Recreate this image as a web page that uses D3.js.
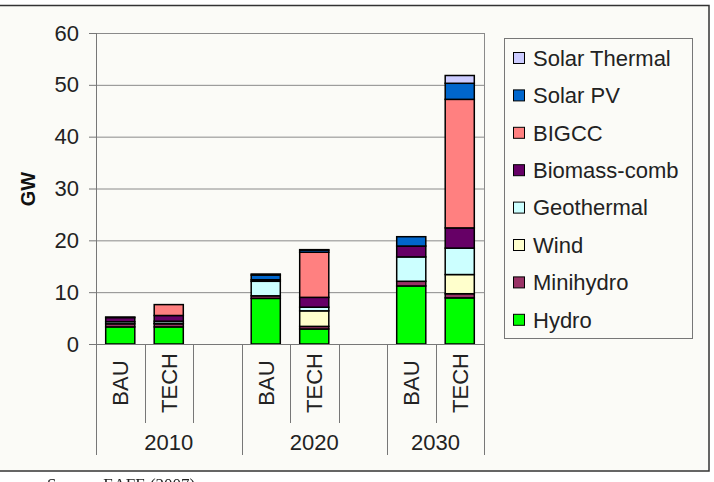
<!DOCTYPE html>
<html lang="en">
  <meta charset="utf-8">
  <title>Renewable capacity by scenario</title>
  <style>
  body {
    margin: 0px;
    background: white;
  }
  #chartDiv {
    position: fixed;
    left: 0px;
    top: 0px;
    width: 714px;
    height: 482px;
  }
  text {
    font-family: "Liberation Sans", Arial, sans-serif;
  }
  </style>
  <body>
  <div id="chartDiv"></div>

  <script src="https://cdn.jsdelivr.net/npm/d3@7"></script>
  <script>
    // Values, one entry per bar:
    // 2010 BAU, 2010 TECH, 2020 BAU, 2020 TECH, 2030 BAU, 2030 TECH
    var years = ["2010", "2020", "2030"];
    var scenarios = ["BAU", "TECH"];
    var seriesNames = ["Hydro", "Minihydro", "Wind", "Geothermal", "Biomass-comb", "BIGCC", "Solar PV", "Solar Thermal"];
    var hydro        = [3.3, 3.3, 8.8, 2.9, 11.2, 8.9];
    var minihydro    = [0.6, 0.6, 0.5, 0.5, 0.9, 0.8];
    var wind         = [0.0, 0.1, 0.0, 3.0, 0.0, 3.7];
    var geothermal   = [0.4, 0.4, 2.8, 0.7, 4.7, 5.1];
    var biomassComb  = [0.8, 1.1, 0.3, 1.9, 2.1, 3.9];
    var bigcc        = [0.0, 2.1, 0.0, 8.7, 0.0, 24.8];
    var solarPV      = [0.1, 0.0, 0.9, 0.4, 1.8, 3.1];
    var solarThermal = [0.0, 0.0, 0.2, 0.1, 0.0, 1.5];
    var yTicks = [0, 10, 20, 30, 40, 50, 60];

    var seriesValues = [hydro, minihydro, wind, geothermal, biomassComb, bigcc, solarPV, solarThermal];
    var seriesColors = ["#00ff00", "#993366", "#ffffcc", "#ccffff", "#660066", "#ff8080", "#0066cc", "#ccccff"];

    var W = 714, H = 482;
    var svg = d3.select("#chartDiv").append("svg").attr("width", W).attr("height", H);

    // outer frame
    svg.append("rect").attr("x", -1).attr("y", 5.5).attr("width", 710).attr("height", 465.5)
      .attr("fill", "#fbfbf7").attr("stroke", "#333").attr("stroke-width", 1.5);

    // Build slot list: BAU, TECH and a blank slot between year groups.
    var slots = [];
    years.forEach(function(yr, gi) {
      scenarios.forEach(function(sc) { slots.push(yr + "|" + sc); });
      if (gi < years.length - 1) slots.push(yr + "|gap");
    });

    var plotL = 96, plotR = 484, plotT = 33, plotB = 344;
    var x = d3.scaleBand().domain(slots).range([plotL, plotR]).paddingInner(0.4).paddingOuter(0.2);
    var y = d3.scaleLinear().domain([0, 60]).range([plotB, plotT]);
    var step = x.step();

    // gridlines
    svg.append("g").selectAll("line").data(yTicks.filter(function(t) { return t > 0; }))
      .join("line")
      .attr("x1", plotL).attr("x2", plotR)
      .attr("y1", function(d) { return y(d) + 0.5; }).attr("y2", function(d) { return y(d) + 0.5; })
      .attr("stroke", "#8a8a8a").attr("stroke-width", 1);
    svg.append("line").attr("x1", plotR + 0.5).attr("x2", plotR + 0.5).attr("y1", plotT).attr("y2", plotB)
      .attr("stroke", "#8a8a8a");

    // stacked bars
    var bars = [];
    years.forEach(function(yr, gi) {
      scenarios.forEach(function(sc, si) {
        var idx = gi * 2 + si;
        var base = 0;
        seriesValues.forEach(function(vals, k) {
          var v = vals[idx];
          if (v > 0) bars.push({ slot: yr + "|" + sc, y0: base, y1: base + v, color: seriesColors[k] });
          base += v;
        });
      });
    });
    svg.append("g").selectAll("rect").data(bars).join("rect")
      .attr("x", function(d) { return x(d.slot); })
      .attr("width", x.bandwidth())
      .attr("y", function(d) { return y(d.y1); })
      .attr("height", function(d) { return y(d.y0) - y(d.y1); })
      .attr("fill", function(d) { return d.color; })
      .attr("stroke", "#000").attr("stroke-width", 1.5);

    // y axis
    var yAxis = svg.append("g").attr("transform", "translate(" + plotL + ",0)")
      .call(d3.axisLeft(y).tickValues(yTicks).tickSize(7).tickPadding(10));
    yAxis.select(".domain").remove();
    yAxis.selectAll("line").attr("stroke", "#777");
    yAxis.selectAll("text").attr("font-size", 22).attr("fill", "#222")
      .style("font-family", "'Liberation Sans', Arial, sans-serif");
    svg.append("line").attr("x1", plotL + 0.5).attr("x2", plotL + 0.5).attr("y1", plotT).attr("y2", 455)
      .attr("stroke", "#777");

    // category axis line
    svg.append("line").attr("x1", plotL).attr("x2", plotR).attr("y1", plotB + 0.5).attr("y2", plotB + 0.5)
      .attr("stroke", "#777");

    // slot separators: short inside a year group, long at group edges
    var seps = [];
    slots.forEach(function(s, i) {
      var right = x(s) + x.bandwidth() + step * 0.2;
      var groupEnd = (i === slots.length - 1) || s.split("|")[1] === "gap";
      seps.push({ x: right, long: groupEnd });
    });
    svg.append("g").selectAll("line").data(seps).join("line")
      .attr("x1", function(d) { return Math.round(d.x) + 0.5; })
      .attr("x2", function(d) { return Math.round(d.x) + 0.5; })
      .attr("y1", plotB).attr("y2", function(d) { return d.long ? 455 : 423; })
      .attr("stroke", "#777");

    // scenario labels
    var labelSlots = slots.filter(function(s) { return s.split("|")[1] !== "gap"; });
    svg.append("g").selectAll("text").data(labelSlots).join("text")
      .attr("transform", function(d) {
        return "translate(" + (x(d) + x.bandwidth() / 2 + 8) + ",383) rotate(-90)";
      })
      .attr("text-anchor", "middle").attr("font-size", 22).attr("fill", "#222")
      .text(function(d) { return d.split("|")[1]; });

    // year labels
    svg.append("g").selectAll("text").data(years).join("text")
      .attr("x", function(yr) {
        var a = x(yr + "|BAU") - step * 0.2;
        var b = x(yr + "|TECH") + x.bandwidth() + step * 0.2;
        if (yr !== years[years.length - 1]) b += step;
        return (a + b) / 2;
      })
      .attr("y", 450)
      .attr("text-anchor", "middle").attr("font-size", 22).attr("fill", "#222")
      .text(function(d) { return d; });

    // y title
    svg.append("text").attr("transform", "translate(35,189) rotate(-90)")
      .attr("text-anchor", "middle").attr("font-size", 20).attr("font-weight", "bold").attr("fill", "#111")
      .text("GW");

    // legend
    var legend = svg.append("g");
    legend.append("rect").attr("x", 504.5).attr("y", 38.5).attr("width", 188).attr("height", 300)
      .attr("fill", "#fbfbf7").attr("stroke", "#777");
    var legendOrder = seriesNames.map(function(n, i) { return i; }).reverse();
    var items = legend.selectAll("g.item").data(legendOrder).join("g")
      .attr("class", "item")
      .attr("transform", function(d, i) { return "translate(513," + (58 + i * 37.4) + ")"; });
    items.append("rect").attr("x", 0.5).attr("y", -5.5).attr("width", 11).attr("height", 11)
      .attr("fill", function(d) { return seriesColors[d]; }).attr("stroke", "#000");
    items.append("text").attr("x", 20).attr("y", 0).attr("dy", "0.35em")
      .attr("font-size", 22).attr("fill", "#222")
      .text(function(d) { return seriesNames[d]; });

    // source note, cut by the bottom of the picture
    svg.append("text").attr("x", 47).attr("y", 490)
      .style("font-family", "'Liberation Serif', 'Times New Roman', serif")
      .attr("font-size", 17).attr("fill", "#222")
      .text("Source: EAFE (2007)");
  </script>
  </body>
</html>
